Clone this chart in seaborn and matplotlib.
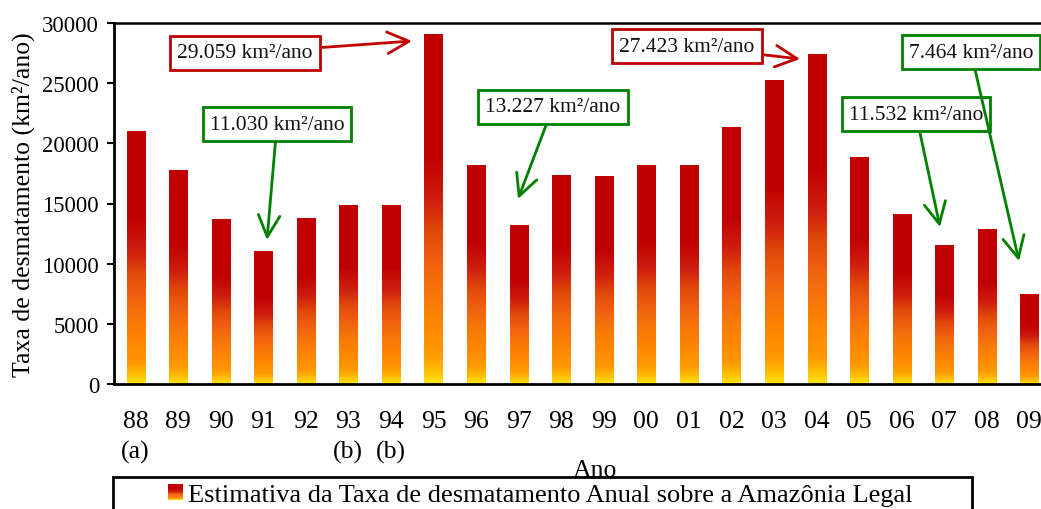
import numpy as np
import pandas as pd
import matplotlib
matplotlib.use("Agg")
import matplotlib.pyplot as plt
import seaborn as sns
from matplotlib.colors import LinearSegmentedColormap
from matplotlib.patches import Rectangle
from matplotlib.legend_handler import HandlerBase

# ---------------- data ----------------
anos = ["88", "89", "90", "91", "92", "93", "94", "95", "96", "97", "98",
        "99", "00", "01", "02", "03", "04", "05", "06", "07", "08", "09"]
notas = ["(a)", "", "", "", "", "(b)", "(b)", "", "", "", "",
         "", "", "", "", "", "", "", "", "", "", ""]
taxa = [21050, 17770, 13730, 11030, 13786, 14896, 14896, 29059, 18161, 13227, 17383,
        17259, 18226, 18165, 21394, 25247, 27423, 18846, 14109, 11532, 12911, 7464]

anot_textos = ["29.059 km²/ano", "11.030 km²/ano", "13.227 km²/ano",
               "27.423 km²/ano", "11.532 km²/ano", "7.464 km²/ano"]
anot_anos = ["95", "91", "97", "04", "07", "09"]
anot_cores = ["#C00000", "#008000", "#008000", "#C00000", "#008000", "#008000"]

serie_nome = "Estimativa da Taxa de desmatamento Anual sobre a Amazônia Legal"

# ---------------- style ----------------
sns.set_theme(style="white")
plt.rcParams["font.family"] = ["Liberation Serif", "DejaVu Serif"]
plt.rcParams["mathtext.fontset"] = "stix"

grad = LinearSegmentedColormap.from_list("grad", [
    (0.00, "#FFE800"), (0.03, "#FFC400"), (0.08, "#FF9A00"), (0.16, "#FF8800"),
    (0.25, "#F87808"), (0.35, "#F06010"), (0.44, "#E04808"), (0.52, "#D02010"),
    (0.65, "#C00000"), (1.00, "#C00000")])

fig = plt.figure(figsize=(10.41, 5.10), dpi=100)
W, H = 1041, 510
x0, x1 = 114.3, 1050.6
y_top, y_bot = 24, 385
ax = fig.add_axes([x0 / W, (H - y_bot) / H, (x1 - x0) / W, (y_bot - y_top) / H])

df = pd.DataFrame({"ano": anos, "taxa": taxa})
sns.barplot(data=df, x="ano", y="taxa", order=anos, color="#C00000",
            width=0.423, ax=ax, saturation=1)

# gradient fill for each bar
gimg = np.linspace(0, 1, 256).reshape(-1, 1)
for p in ax.patches:
    bx, by = p.get_x(), p.get_y()
    bw, bh = p.get_width(), p.get_height()
    p.set_facecolor("none")
    p.set_edgecolor("none")
    im = ax.imshow(gimg, cmap=grad, origin="lower", aspect="auto",
                   extent=[bx, bx + bw, by, by + bh], zorder=2, interpolation="bilinear")
    im.set_clip_path(p)

ax.set_xlim(-0.5, len(anos) - 0.5)
ax.set_ylim(0, 30000)
ax.set_yticks(np.arange(0, 30001, 5000))

# spines
for s in ["left", "bottom", "top"]:
    ax.spines[s].set_visible(True)
    ax.spines[s].set_color("black")
ax.spines["left"].set_linewidth(2.0)
ax.spines["bottom"].set_linewidth(2.0)
ax.spines["top"].set_linewidth(1.8)
ax.spines["right"].set_visible(False)

# ticks
ax.set_xticks(range(len(anos)))
ax.set_xticklabels([a + ("\n" + n if n else "") for a, n in zip(anos, notas)],
                   fontsize=18.5, linespacing=1.45)
ax.set_xticks(np.arange(-0.5, len(anos) - 0.5 + 0.01, 1.0), minor=True)
ax.tick_params(axis="x", which="major", length=0, pad=19)
ax.tick_params(axis="x", which="minor", direction="inout", length=13, width=1.5, color="black")
ax.tick_params(axis="y", which="major", direction="out", length=5, width=1.5,
               color="black", labelsize=16.3, pad=6, left=True)
for lab in ax.get_xticklabels() + ax.get_yticklabels():
    lab.set_color("black")

ax.set_ylabel("Taxa de desmatamento (km²/ano)", fontsize=18.5, color="black", labelpad=5)
ax.set_xlabel("Ano", fontsize=18.5, color="black")
ax.xaxis.set_label_coords((595 - x0) / (x1 - x0), -(460 - y_bot) / (y_bot - y_top))

# annotations: (text centre px, arrow tip px)
ann_pos = {
    "95": ((245, 54), (412, 42)),
    "91": ((277, 125), (267, 241)),
    "97": ((553, 108), (518, 200)),
    "04": ((687, 47), (800, 60)),
    "07": ((916, 115), (940, 228)),
    "09": ((971, 53), (1019, 262)),
}
for txt, ano, cor in zip(anot_textos, anot_anos, anot_cores):
    (tx, ty), (hx, hy) = ann_pos[ano]
    ax.annotate(txt, xy=(hx / W, (H - hy) / H), xycoords="figure fraction",
                xytext=(tx / W, (H - ty) / H), textcoords="figure fraction",
                ha="center", va="center", fontsize=15.5, color="#111111",
                bbox=dict(boxstyle="square,pad=0.33", fc="white", ec=cor, lw=2),
                arrowprops=dict(arrowstyle="->,head_length=1.0,head_width=0.5",
                                color=cor, lw=2, shrinkA=0, shrinkB=0),
                zorder=5, annotation_clip=False)

# legend with gradient swatch
class GradHandler(HandlerBase):
    def create_artists(self, legend, orig_handle, xdescent, ydescent, width, height,
                       fontsize, trans):
        n = 20
        arts = []
        for k in range(n):
            r = Rectangle((-xdescent, -ydescent + height * k / n), width, height / n + 0.2,
                          facecolor=grad((k + 0.5) / n), edgecolor="none", transform=trans)
            arts.append(r)
        return arts

fig.patches.append(Rectangle((112.5 / W, (H - 530) / H), (972 - 112.5) / W, (530 - 478) / H,
                             transform=fig.transFigure, facecolor="white",
                             edgecolor="black", lw=2, zorder=3))
handle = Rectangle((0, 0), 1, 1)
leg = fig.legend([handle], [serie_nome], handler_map={Rectangle: GradHandler()},
                 loc="center left", bbox_to_anchor=(168 / W, (H - 496) / H),
                 frameon=False, fontsize=19.0, handlelength=0.55, handleheight=0.55,
                 handletextpad=0.2, borderpad=0, borderaxespad=0, labelcolor="black")
leg.set_zorder(4)

fig.savefig("out.png", dpi=100)
